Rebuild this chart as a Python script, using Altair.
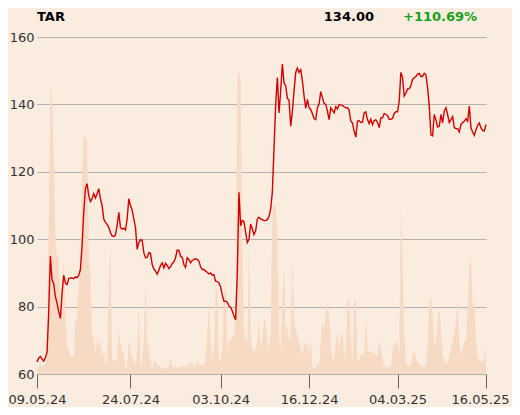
import altair as alt
import pandas as pd

ticker = "TAR"

price = [
    63.6, 64.7, 65.2, 64.5, 63.8, 64.8, 66.5, 78, 95, 88,
    86.8, 83, 81, 78.5, 76.5, 84, 89.3, 87, 86.5, 88.3,
    88.5, 88.5, 88.3, 88.8, 88.6, 89.3, 91, 98, 108, 115,
    116.5, 113, 111.2, 112, 113.5, 112.2, 113.5, 115, 112, 110,
    106, 105, 104.4, 103.5, 102, 101, 100.8, 101.2, 104, 108,
    103.5, 103, 103.3, 102.7,
    106, 112, 110, 108.7, 106, 103.5, 97, 99, 99.8, 99.7,
    96, 94.5, 94.6, 96, 95.8, 92.5, 91.2, 90.5, 89.6, 90.8,
    92.2, 93, 91.5, 92.8, 92.2, 91.3, 91.8, 92.8, 93.2, 94.5,
    96.8, 96.7, 95, 94.6, 92.5, 91.6, 94.5, 94, 93, 93.7,
    94, 94.2, 94, 93.5, 91.8, 91, 91, 90.5, 90.2, 89.7,
    90, 89.3, 89.5, 87.5,
    87.5, 87, 85.8, 83.5, 81.6, 81.6, 81.3, 80.2, 79.8, 78.7,
    77.2, 76, 90, 113.9, 104, 105.6, 105.2, 102, 99, 100,
    104.5, 103, 101.4, 102.5, 106, 106.5, 106, 105.8, 105.5, 105.5,
    105.8, 106.8, 109, 114, 127, 140, 148, 137.5, 144, 152,
    146.4, 145.5, 141.8, 141.2, 133.5, 138, 144, 149.5, 150.8, 149.5,
    150.3, 147, 142.5, 138.8,
    141.5, 139, 138.5, 137.2, 135.8, 135.5, 139, 140.2, 143.8, 142,
    140.3, 140, 138, 135.5, 139, 138.2, 137.5, 139.3, 138.7, 140,
    139.8, 139.7, 139.3, 139, 139, 138.3, 135, 134.5, 132, 130.3,
    135, 135.2, 134.6, 134.7, 137.5, 137.8, 135.5, 134.3, 135.6, 134,
    135.2, 135.4, 134.7, 133.1, 136, 136, 137.3, 137, 136.7, 135.6,
    135.6, 135.8, 137.3, 137.8,
    137.8, 141, 149.5, 148, 142.5, 143.3, 144.6, 144.6, 145.6, 147.4,
    147.9, 148.3, 149, 149.2, 148.3, 148.3, 149.2, 148.8, 145, 139.5,
    131, 130.7, 137, 135.5, 133.3, 133.5, 137, 134.5, 138, 139,
    137, 134.6, 135.5, 136.4, 133.1, 132.8, 132.8, 131.8, 134, 134.6,
    135, 135.8, 135, 139.5, 133, 131.8, 130.8, 132.5, 133.8, 134.5,
    133, 132.3, 132.1, 134,
]

volume = [
    7, 5, 12, 7, 8, 10, 25, 150, 290, 270,
    220, 140, 115, 118, 60, 95, 112, 58, 28, 25,
    18, 17, 18, 53, 55, 92, 108, 192, 237, 238,
    232, 125, 92, 42, 35, 18, 38, 25, 37, 15,
    23, 10, 12, 92, 128, 15, 13, 15, 12, 45,
    32, 23, 20, 5,
    8, 35, 25, 18, 15, 8, 25, 68, 8, 12,
    32, 92, 35, 25, 15, 5, 15, 12, 10, 8,
    7, 5, 7, 5, 7, 8, 15, 8, 7, 8,
    5, 7, 8, 7, 8, 7, 8, 10, 12, 10,
    8, 7, 12, 10, 8, 10, 7, 15, 42, 68,
    35, 12, 25, 90,
    82, 15, 12, 25, 72, 102, 25, 32, 35, 38,
    38, 60, 290, 303, 295, 120, 45, 32, 32, 132,
    42, 25, 22, 25, 32, 55, 25, 38, 55, 55,
    32, 25, 42, 158, 172, 168, 142, 38, 25, 75,
    107, 38, 52, 32, 38, 115, 52, 45, 38, 32,
    25, 18, 32, 28,
    32, 18, 35, 8, 5, 7, 12, 8, 32, 55,
    45, 58, 72, 58, 32, 15, 15, 32, 42, 25,
    38, 42, 15, 25, 72, 78, 38, 12, 72, 75,
    12, 15, 18, 20, 18, 58, 25, 22, 23, 22,
    20, 20, 18, 35, 25, 15, 8, 7, 5, 7,
    8, 25, 30, 32,
    32, 18, 165, 120, 42, 12, 8, 7, 8, 18,
    25, 17, 12, 10, 8, 7, 8, 8, 32, 72,
    78, 58, 28, 32, 52, 68, 42, 18, 15, 10,
    12, 18, 25, 32, 42, 52, 73, 32, 18, 25,
    32, 35, 62, 108, 118, 65, 75, 35, 18, 12,
    13, 12, 18, 28,
]

tick_index = [0, 56, 110, 163, 216, 269]
tick_labels = ["09.05.24", "24.07.24", "03.10.24", "16.12.24", "04.03.25", "16.05.25"]
y_ticks = [60, 80, 100, 120, 140, 160]

n = len(price)
df = pd.DataFrame({"i": list(range(n)), "price": price, "volume": volume})

last_txt = f"{price[-1]:.2f}"
chg = (price[-1] / price[0] - 1) * 100
chg_txt = f"{chg:+.2f}%"

label_expr = ""
for idx, lab in zip(tick_index, tick_labels):
    label_expr += f"datum.value == {idx} ? '{lab}' : "
label_expr += "''"

FONT = "DejaVu Sans"
BG = "#FBECE0"

x_enc = alt.X(
    "i:Q",
    scale=alt.Scale(domain=[0, n - 1], nice=False, zero=False),
    axis=alt.Axis(
        values=tick_index,
        labelExpr=label_expr,
        grid=False,
        domain=False,
        tickSize=14,
        tickColor="#666666",
        labelPadding=5,
        labelFlush=False,
        labelOffset={"condition": {"test": f"datum.value == {n - 1}", "value": -6}, "value": 0},
        labelFont=FONT,
        labelFontSize=13,
        labelColor="#333333",
        title=None,
    ),
)

vol = alt.Chart(df).mark_area(color="#F7DAC4", opacity=1, interpolate="linear").encode(
    x=x_enc,
    y=alt.Y("volume:Q", scale=alt.Scale(domain=[0, 337], nice=False, zero=True), axis=None),
)

line = alt.Chart(df).mark_line(color="#D10000", strokeWidth=1.4).encode(
    x=x_enc,
    y=alt.Y(
        "price:Q",
        scale=alt.Scale(domain=[60, 160], nice=False, zero=False),
        axis=alt.Axis(
            values=y_ticks,
            grid=True,
            gridColor="#B3B0AD",
            gridWidth=1,
            domain=False,
            ticks=False,
            labelPadding=3,
            labelFont=FONT,
            labelFontSize=13,
            labelColor="#333333",
            title=None,
        ),
    ),
)

t1 = alt.Chart(pd.DataFrame({"t": [ticker]})).mark_text(
    align="left", baseline="alphabetic", font=FONT, fontSize=13, fontWeight="bold", color="#000000"
).encode(text="t:N", x=alt.value(0), y=alt.value(-16))

t2 = alt.Chart(pd.DataFrame({"t": [last_txt]})).mark_text(
    align="right", baseline="alphabetic", font=FONT, fontSize=13, fontWeight="bold", color="#000000"
).encode(text="t:N", x=alt.value(337), y=alt.value(-16))

t3 = alt.Chart(pd.DataFrame({"t": [chg_txt]})).mark_text(
    align="left", baseline="alphabetic", font=FONT, fontSize=13, fontWeight="bold", color="#16A016"
).encode(text="t:N", x=alt.value(366), y=alt.value(-16))

chart = (
    alt.layer(vol, line, t1, t2, t3)
    .resolve_scale(y="independent")
    .properties(
        width=449,
        height=337,
        padding={"left": 29, "top": 29, "right": 26, "bottom": 33},
        autosize=alt.AutoSizeParams(type="none"),
        background=BG,
    )
    .configure_view(stroke=None)
)

chart.save("out.html", embed_options={"renderer": "svg", "actions": False})
